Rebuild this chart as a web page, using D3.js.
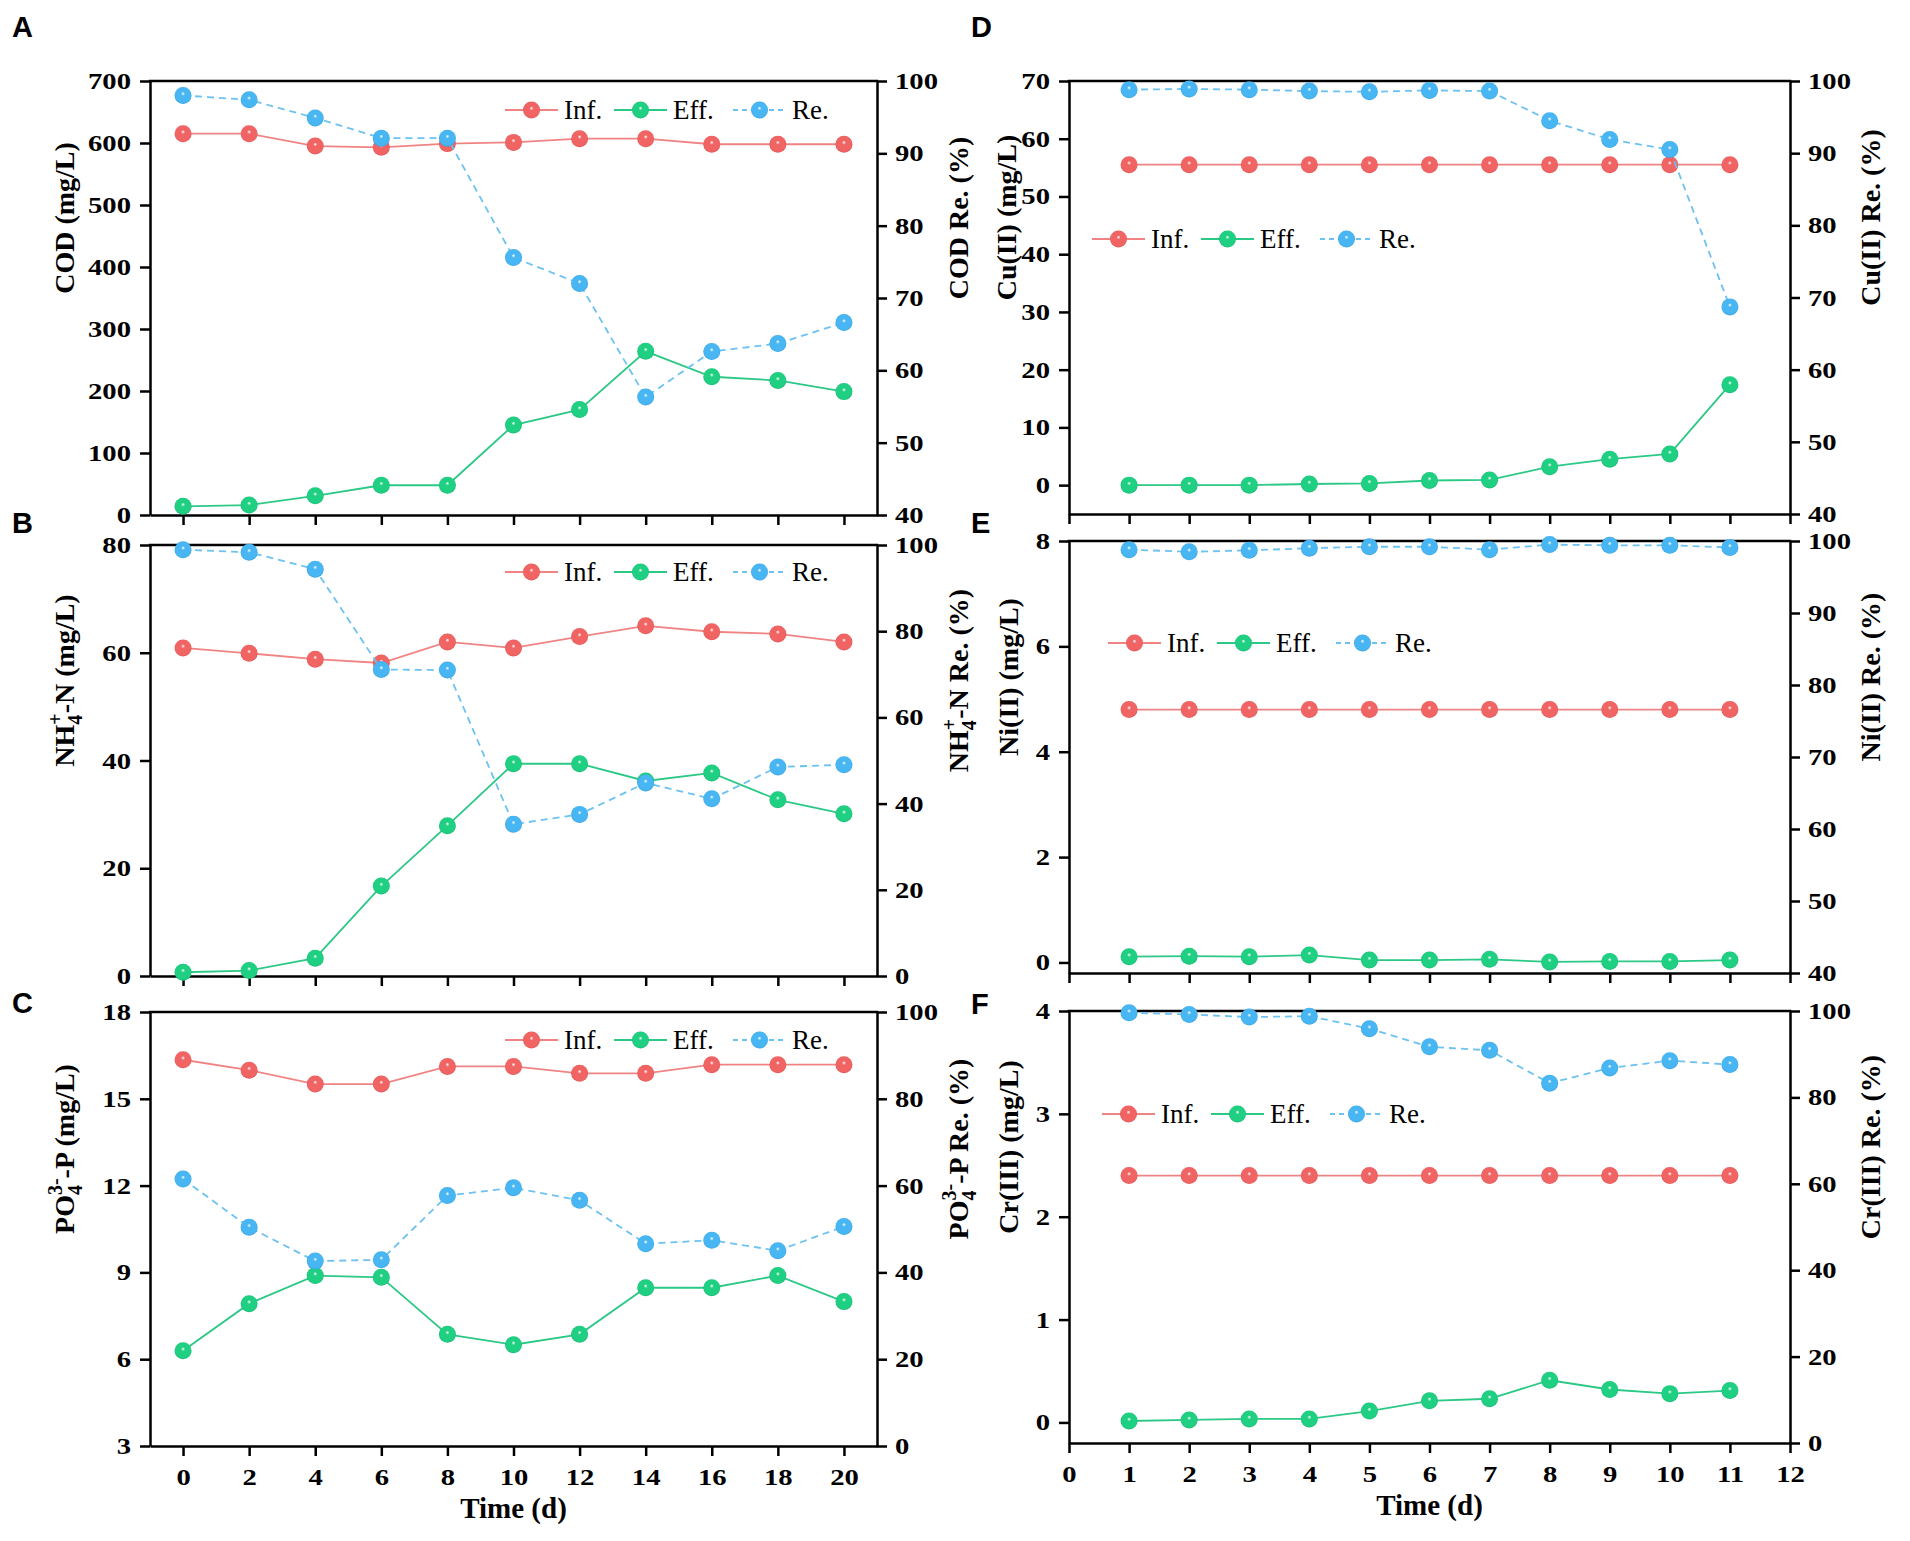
<!DOCTYPE html>
<html>
<head>
  <meta charset="utf-8">
  <script src="https://d3js.org/d3.v7.min.js"></script>
  <style>
    body { margin: 0; background: #fff; }
    .domain, .tick line { stroke: #000; stroke-width: 2.5; }
  </style>
</head>
<body>
  <svg id="fig"></svg>

  <script>
    // time axes
    const daysL = [0, 2, 4, 6, 8, 10, 12, 14, 16, 18, 20];
    const daysR = [1, 2, 3, 4, 5, 6, 7, 8, 9, 10, 11];
    const timeTicksL = [0, 2, 4, 6, 8, 10, 12, 14, 16, 18, 20];
    const timeTicksR = [0, 1, 2, 3, 4, 5, 6, 7, 8, 9, 10, 11, 12];

    // A: COD
    const codInf = [615, 615, 595, 593, 599, 601, 607, 607, 598, 598, 598];
    const codEff = [14, 16, 31, 48, 48, 145, 170, 264, 223, 217, 199];
    const codRe = [98.0, 97.4, 94.9, 92.1, 92.1, 75.6, 72.0, 56.3, 62.6, 63.7, 66.6];
    const codTicks = [0, 100, 200, 300, 400, 500, 600, 700];
    const codReTicks = [40, 50, 60, 70, 80, 90, 100];

    // B: NH4+-N
    const nh4Inf = [60.9, 59.9, 58.8, 58.1, 62.0, 60.9, 63.0, 65.0, 63.9, 63.5, 62.0];
    const nh4Eff = [0.7, 1.0, 3.3, 16.7, 27.9, 39.4, 39.4, 36.2, 37.7, 32.7, 30.1];
    const nh4Re = [98.9, 98.3, 94.4, 71.1, 71.0, 35.2, 37.5, 44.8, 41.1, 48.5, 49.0];
    const nh4Ticks = [0, 20, 40, 60, 80];

    // C: PO4 3- -P
    const po4Inf = [16.35, 15.99, 15.51, 15.51, 16.12, 16.12, 15.88, 15.88, 16.18, 16.18, 16.18];
    const po4Eff = [6.29, 7.92, 8.89, 8.83, 6.86, 6.5, 6.86, 8.47, 8.47, 8.89, 7.99];
    const po4Re = [61.5, 50.4, 42.6, 42.9, 57.7, 59.5, 56.6, 46.6, 47.4, 45.0, 50.6];
    const po4Ticks = [3, 6, 9, 12, 15, 18];

    const pctTicks = [0, 20, 40, 60, 80, 100];

    // D: Cu(II)
    const cuInf = [55.5, 55.5, 55.5, 55.5, 55.5, 55.5, 55.5, 55.5, 55.5, 55.5, 55.5];
    const cuEff = [0.0, 0.0, 0.0, 0.2, 0.3, 0.8, 0.9, 3.2, 4.5, 5.4, 17.4];
    const cuRe = [98.8, 98.9, 98.8, 98.6, 98.5, 98.7, 98.6, 94.5, 91.9, 90.5, 68.7];
    const cuTicks = [0, 10, 20, 30, 40, 50, 60, 70];

    // E: Ni(II)
    const niInf = [4.8, 4.8, 4.8, 4.8, 4.8, 4.8, 4.8, 4.8, 4.8, 4.8, 4.8];
    const niEff = [0.11, 0.12, 0.11, 0.14, 0.045, 0.045, 0.06, 0.01, 0.02, 0.02, 0.045];
    const niRe = [98.8, 98.5, 98.7, 99.0, 99.2, 99.2, 98.8, 99.5, 99.4, 99.4, 99.1];
    const niTicks = [0, 2, 4, 6, 8];

    // F: Cr(III)
    const crInf = [2.4, 2.4, 2.4, 2.4, 2.4, 2.4, 2.4, 2.4, 2.4, 2.4, 2.4];
    const crEff = [0.014, 0.024, 0.034, 0.034, 0.11, 0.21, 0.23, 0.41, 0.32, 0.28, 0.31];
    const crRe = [99.6, 99.2, 98.6, 98.8, 95.9, 91.7, 90.9, 83.3, 86.8, 88.5, 87.6];
    const crTicks = [0, 1, 2, 3, 4];

    const reTicks = [40, 50, 60, 70, 80, 90, 100];

    const seriesNames = ["Inf.", "Eff.", "Re."];
    const colors = {
      inf: { line: "#f08484", mark: "#f06464", dark: "#d84848" },
      eff: { line: "#2cc886", mark: "#1fcf82", dark: "#12a866" },
      re:  { line: "#6cc2f0", mark: "#48b6f2", dark: "#2c94d8" }
    };

    const SERIF = "'Liberation Serif', 'Times New Roman', serif";
    const TICK_SX = 1.22;   // tick numbers in the figure are drawn wide

    const svg = d3.select("#fig")
      .attr("width", 1910)
      .attr("height", 1541);

    svg.append("rect").attr("width", 1910).attr("height", 1541).attr("fill", "#fff");

    // sphere-like markers
    const defs = svg.append("defs");
    Object.entries(colors).forEach(([k, c]) => {
      const grad = defs.append("radialGradient")
        .attr("id", "grad-" + k)
        .attr("cx", "50%").attr("cy", "50%").attr("r", "55%")
        .attr("fx", "50%").attr("fy", "38%");
      grad.append("stop").attr("offset", "0%").attr("stop-color", "#ffffff");
      grad.append("stop").attr("offset", "22%").attr("stop-color", c.mark);
      grad.append("stop").attr("offset", "80%").attr("stop-color", c.mark);
      grad.append("stop").attr("offset", "100%").attr("stop-color", c.dark);
    });

    const panels = [
      { letter: "A", lx: 12, ly: 37, x0: 150, x1: 877, y0: 81, y1: 515,
        xDom: [-1, 21], xTicks: timeTicksL, xLabels: false, days: daysL,
        yDom: [0, 700], yTicks: codTicks, rDom: [40, 100], rTicks: codReTicks,
        inf: codInf, eff: codEff, re: codRe,
        yTitle: [["COD (mg/L)"]], rTitle: [["COD Re. (%)"]],
        ltx: 64, rtx: 958, legX: 505, legY: 110 },
      { letter: "B", lx: 12, ly: 533, x0: 150, x1: 877, y0: 545, y1: 976,
        xDom: [-1, 21], xTicks: timeTicksL, xLabels: false, days: daysL,
        yDom: [0, 80], yTicks: nh4Ticks, rDom: [0, 100], rTicks: pctTicks,
        inf: nh4Inf, eff: nh4Eff, re: nh4Re,
        yTitle: [["NH"], ["4", "sub"], ["+", "sup"], ["-N (mg/L)"]],
        rTitle: [["NH"], ["4", "sub"], ["+", "sup"], ["-N Re. (%)"]],
        ltx: 64, rtx: 958, legX: 505, legY: 572 },
      { letter: "C", lx: 12, ly: 1013, x0: 150, x1: 877, y0: 1012, y1: 1446,
        xDom: [-1, 21], xTicks: timeTicksL, xLabels: true, days: daysL,
        yDom: [3, 18], yTicks: po4Ticks, rDom: [0, 100], rTicks: pctTicks,
        inf: po4Inf, eff: po4Eff, re: po4Re,
        yTitle: [["PO"], ["4", "sub"], ["3-", "sup"], ["-P (mg/L)"]],
        rTitle: [["PO"], ["4", "sub"], ["3-", "sup"], ["-P Re. (%)"]],
        ltx: 64, rtx: 958, legX: 505, legY: 1040 },
      { letter: "D", lx: 971, ly: 37, x0: 1069, x1: 1790, y0: 81, y1: 514,
        xDom: [0, 12], xTicks: timeTicksR, xLabels: false, days: daysR,
        yDom: [-5, 70], yTicks: cuTicks, rDom: [40, 100], rTicks: reTicks,
        inf: cuInf, eff: cuEff, re: cuRe,
        yTitle: [["Cu(II) (mg/L)"]], rTitle: [["Cu(II) Re. (%)"]],
        ltx: 1006, rtx: 1870, legX: 1092, legY: 239 },
      { letter: "E", lx: 971, ly: 533, x0: 1069, x1: 1790, y0: 541, y1: 973,
        xDom: [0, 12], xTicks: timeTicksR, xLabels: false, days: daysR,
        yDom: [-0.2, 8], yTicks: niTicks, rDom: [40, 100], rTicks: reTicks,
        inf: niInf, eff: niEff, re: niRe,
        yTitle: [["Ni(II) (mg/L)"]], rTitle: [["Ni(II) Re. (%)"]],
        ltx: 1008, rtx: 1870, legX: 1108, legY: 643 },
      { letter: "F", lx: 971, ly: 1014, x0: 1069, x1: 1790, y0: 1011, y1: 1443,
        xDom: [0, 12], xTicks: timeTicksR, xLabels: true, days: daysR,
        yDom: [-0.2, 4], yTicks: crTicks, rDom: [0, 100], rTicks: pctTicks,
        inf: crInf, eff: crEff, re: crRe,
        yTitle: [["Cr(III) (mg/L)"]], rTitle: [["Cr(III) Re. (%)"]],
        ltx: 1008, rtx: 1870, legX: 1102, legY: 1114 }
    ];

    // rotated title with optional sub/superscript pieces
    function addTitle(g, parts, cx, cy) {
      const t = g.append("text")
        .style("font-family", SERIF)
        .style("font-weight", "bold")
        .style("font-size", "28px")
        .attr("text-anchor", "middle")
        .attr("transform", `translate(${cx},${cy}) rotate(-90)`)
        .attr("dy", "0.35em");
      let shift = 0;
      parts.forEach((p, i) => {
        const ts = t.append("tspan").text(p[0]);
        if (p[1] === "sub") {
          ts.style("font-size", "20px").attr("dy", 8 - shift);
          shift = 8;
        } else if (p[1] === "sup") {
          ts.style("font-size", "20px").attr("dx", -10).attr("dy", -20);
          shift = -12;
        } else if (i > 0) {
          ts.attr("dy", -shift);
          shift = 0;
        }
      });
    }

    function styleTicks(sel) {
      sel.selectAll(".tick text")
        .style("font-family", SERIF)
        .style("font-weight", "bold")
        .style("font-size", "23.5px")
        .attr("fill", "#000")
        .each(function () {
          const t = d3.select(this);
          const x0 = +t.attr("x") || 0;
          t.attr("x", x0 / TICK_SX).attr("transform", `scale(${TICK_SX},1)`);
        });
    }

    function drawPanel(p) {
      const g = svg.append("g");
      const x = d3.scaleLinear().domain(p.xDom).range([p.x0, p.x1]);
      const y = d3.scaleLinear().domain(p.yDom).range([p.y1, p.y0]);
      const yR = d3.scaleLinear().domain(p.rDom).range([p.y1, p.y0]);
      const fmt = d => String(d);

      // axes
      const xAxis = d3.axisBottom(x).tickValues(p.xTicks).tickSize(10)
        .tickSizeOuter(0).tickPadding(12).tickFormat(p.xLabels ? fmt : "");
      g.append("g").attr("transform", `translate(0,${p.y1})`).call(xAxis).call(styleTicks);

      g.append("g").attr("transform", `translate(${p.x0},0)`)
        .call(d3.axisLeft(y).tickValues(p.yTicks).tickFormat(fmt)
          .tickSize(10).tickSizeOuter(0).tickPadding(9))
        .call(styleTicks);

      g.append("g").attr("transform", `translate(${p.x1},0)`)
        .call(d3.axisRight(yR).tickValues(p.rTicks).tickFormat(fmt)
          .tickSize(10).tickSizeOuter(0).tickPadding(8))
        .call(styleTicks);

      g.append("line")
        .attr("x1", p.x0 - 1.25).attr("x2", p.x1 + 1.25)
        .attr("y1", p.y0).attr("y2", p.y0)
        .attr("stroke", "#000").attr("stroke-width", 2.5);

      // series
      const sets = [
        { key: "inf", vals: p.inf, sc: y, dash: null },
        { key: "eff", vals: p.eff, sc: y, dash: null },
        { key: "re", vals: p.re, sc: yR, dash: "7,5" }
      ];
      sets.forEach(s => {
        const pts = p.days.map((d, i) => [d, s.vals[i]]);
        const line = d3.line().x(d => x(d[0])).y(d => s.sc(d[1]));
        g.append("path")
          .datum(pts)
          .attr("d", line)
          .attr("fill", "none")
          .attr("stroke", colors[s.key].line)
          .attr("stroke-width", 1.8)
          .attr("stroke-dasharray", s.dash);
        g.append("g").selectAll("circle")
          .data(pts)
          .join("circle")
            .attr("cx", d => x(d[0]))
            .attr("cy", d => s.sc(d[1]))
            .attr("r", 8.5)
            .attr("fill", `url(#grad-${s.key})`);
      });

      // legend
      const leg = g.append("g");
      const offs = [0, 109, 228];
      ["inf", "eff", "re"].forEach((k, i) => {
        const lx = p.legX + offs[i];
        leg.append("line")
          .attr("x1", lx).attr("x2", lx + 53)
          .attr("y1", p.legY).attr("y2", p.legY)
          .attr("stroke", colors[k].line)
          .attr("stroke-width", 1.8)
          .attr("stroke-dasharray", k === "re" ? "5,4" : null);
        leg.append("circle")
          .attr("cx", lx + 26.5).attr("cy", p.legY)
          .attr("r", 8.5)
          .attr("fill", `url(#grad-${k})`);
        leg.append("text")
          .attr("x", lx + 59).attr("y", p.legY)
          .attr("dy", "0.35em")
          .style("font-family", SERIF)
          .style("font-size", "27px")
          .text(seriesNames[i]);
      });

      // titles
      const cy = (p.y0 + p.y1) / 2 - 80;
      addTitle(g, p.yTitle, p.ltx, cy);
      addTitle(g, p.rTitle, p.rtx, cy);

      if (p.xLabels) {
        g.append("text")
          .style("font-family", SERIF)
          .style("font-weight", "bold")
          .style("font-size", "29px")
          .attr("text-anchor", "middle")
          .attr("x", (p.x0 + p.x1) / 2)
          .attr("y", p.y1 + 72)
          .text("Time (d)");
      }

      svg.append("text")
        .style("font-family", "'Liberation Sans', Arial, sans-serif")
        .style("font-weight", "bold")
        .style("font-size", "29px")
        .attr("x", p.lx).attr("y", p.ly)
        .text(p.letter);
    }

    panels.forEach(drawPanel);
  </script>
</body>
</html>
